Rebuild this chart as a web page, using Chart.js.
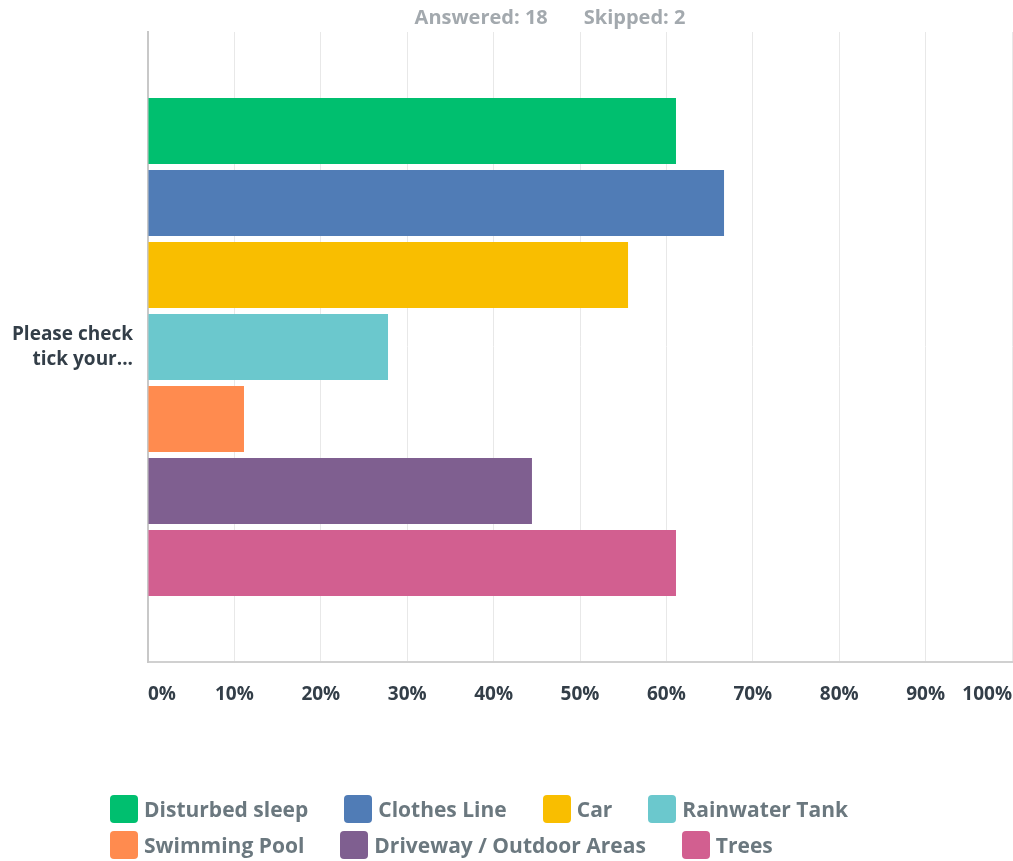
<!DOCTYPE html>
<html>
<head>
<meta charset="utf-8">
<script src="https://cdn.jsdelivr.net/npm/chart.js@4"></script>
<style>
  body { margin: 0; background: #fff; }
  #wrap { position: relative; width: 1013px; height: 861px; }
  #legend {
    position: absolute; left: 110px; top: 794px; width: 820px;
    display: flex; flex-wrap: wrap; row-gap: 7px;
    font: 700 21px "Open Sans", sans-serif; color: #6b787f;
  }
  .item { display: flex; align-items: center; margin-right: 36px; height: 29px; }
  .box { width: 28px; height: 28px; border-radius: 4px; margin-right: 6px; }
</style>
</head>
<body>
<div id="wrap">
  <canvas id="chart" width="1013" height="861"></canvas>
  <div id="legend"></div>
</div>
<script>
const categories = [['Please check', 'tick your...']];
const seriesNames = ['Disturbed sleep', 'Clothes Line', 'Car', 'Rainwater Tank', 'Swimming Pool', 'Driveway / Outdoor Areas', 'Trees'];
const seriesValues = [61.11, 66.67, 55.56, 27.78, 11.11, 44.44, 61.11];
const seriesColors = ['#00bf6f', '#507cb6', '#f9be00', '#6bc8cd', '#ff8b4f', '#7f5f90', '#d25f90'];
const summary = ['Answered: 18', 'Skipped: 2'];

const fontFamily = '"Open Sans", sans-serif';

// "Answered / Skipped" line above the plot
const summaryPlugin = {
  id: 'summary',
  afterDraw(chart) {
    const c = chart.ctx;
    c.save();
    c.font = 'bold 20px ' + fontFamily;
    c.fillStyle = '#a3a9ae';
    c.textBaseline = 'middle';
    const gap = 36;
    const widths = summary.map(t => c.measureText(t).width);
    let x = 550 - (widths[0] + gap + widths[1]) / 2;
    summary.forEach((t, i) => {
      c.fillText(t, x, 18);
      x += widths[i] + gap;
    });
    c.restore();
  }
};

const ctx = document.getElementById('chart').getContext('2d');
const chart = new Chart(ctx, {
  type: 'bar',
  data: {
    labels: categories,
    datasets: seriesNames.map((name, i) => ({
      label: name,
      data: [seriesValues[i]],
      backgroundColor: seriesColors[i],
      categoryPercentage: 0.8,
      barPercentage: 0.92
    }))
  },
  options: {
    indexAxis: 'y',
    responsive: false,
    animation: false,
    layout: { padding: { top: 32, right: 1, left: 0, bottom: 0 } },
    scales: {
      x: {
        min: 0,
        max: 100,
        afterFit(scale) {
          scale.height = 199;
          scale.paddingLeft = 0;
          scale.paddingRight = 0;
        },
        grid: { color: '#e8e8e8', drawTicks: false },
        border: { color: '#d0d0d0', width: 2 },
        ticks: {
          stepSize: 10,
          align: 'inner',
          padding: 21,
          color: '#333e48',
          font: { family: fontFamily, size: 19, weight: 'bold' },
          callback: v => v + '%'
        }
      },
      y: {
        afterFit(scale) {
          scale.width = 148;
          scale.paddingTop = 0;
          scale.paddingBottom = 0;
        },
        grid: { display: false },
        border: { color: '#c8c8c8', width: 2 },
        ticks: {
          padding: 7,
          color: '#333e48',
          font: { family: fontFamily, size: 19, weight: 'bold', lineHeight: 1.35 }
        }
      }
    },
    plugins: {
      legend: { display: false },
      tooltip: { enabled: false }
    }
  },
  plugins: [summaryPlugin]
});

const legend = document.getElementById('legend');
seriesNames.forEach((name, i) => {
  const item = document.createElement('div');
  item.className = 'item';
  item.innerHTML = `<span class="box" style="background:${seriesColors[i]}"></span><span>${name}</span>`;
  legend.appendChild(item);
});
</script>
</body>
</html>
